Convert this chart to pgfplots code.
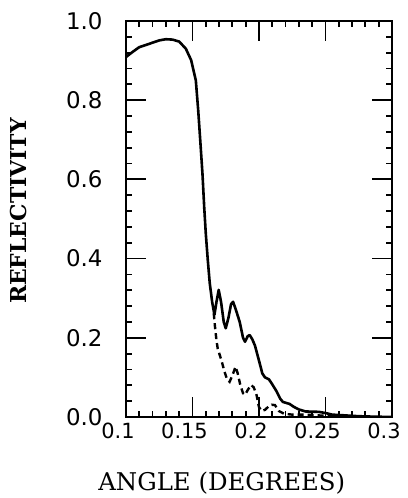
\documentclass[border=0pt]{standalone}
\usepackage{fontspec}
\usepackage{pgfplots}
\pgfplotsset{compat=1.18}
\newfontfamily\ticksf{DejaVu Sans}
\newfontfamily\labelserif{DejaVu Serif}

\pgfplotstableread{
x y
0.100 0.909
0.105 0.922
0.110 0.934
0.118 0.943
0.125 0.951
0.130 0.954
0.135 0.953
0.140 0.948
0.145 0.930
0.149 0.901
0.1525 0.850
0.1543 0.774
0.1560 0.690
0.1575 0.614
0.1588 0.530
0.1600 0.463
0.1615 0.396
0.1630 0.337
0.1648 0.290
0.1665 0.258
0.1680 0.290
0.1697 0.321
0.1715 0.290
0.1735 0.240
0.1750 0.224
0.1770 0.250
0.1790 0.285
0.1805 0.291
0.1825 0.272
0.1855 0.240
0.1880 0.200
0.1895 0.190
0.1915 0.204
0.1930 0.207
0.1950 0.196
0.1970 0.180
0.2005 0.136
0.2025 0.110
0.2045 0.100
0.2075 0.095
0.2095 0.085
0.2130 0.066
0.2160 0.046
0.2180 0.038
0.2210 0.035
0.2230 0.033
0.2260 0.026
0.2300 0.019
0.2350 0.014
0.2450 0.013
0.2500 0.010
0.2550 0.006
0.2650 0.004
0.2750 0.002
0.2850 0.001
0.3000 0.000
}\solid

\pgfplotstableread{
x y
0.1660 0.262
0.1667 0.235
0.1680 0.194
0.1690 0.172
0.1717 0.144
0.1740 0.115
0.1760 0.095
0.1779 0.089
0.1800 0.105
0.1824 0.127
0.1840 0.110
0.1860 0.080
0.1880 0.060
0.1895 0.056
0.1915 0.068
0.1940 0.081
0.1960 0.075
0.1980 0.058
0.2000 0.025
0.2020 0.015
0.2045 0.018
0.2070 0.026
0.2095 0.031
0.2120 0.030
0.2150 0.015
0.2190 0.008
0.2250 0.006
0.2350 0.006
0.2450 0.004
0.2600 0.002
0.2750 0.000
}\dashed

\begin{document}
\begin{tikzpicture}
\useasboundingbox (-126bp,-81bp) rectangle (282bp,417bp);
\begin{axis}[
    scale only axis,
    width=266bp, height=396bp,
    xmin=0.1, xmax=0.3,
    ymin=0, ymax=1,
    xtick={0.1,0.15,0.2,0.25,0.3},
    xticklabels={0.1,0.15,0.2,0.25,0.3},
    ytick={0,0.2,0.4,0.6,0.8,1},
    yticklabels={0.0,0.2,0.4,0.6,0.8,1.0},
    minor x tick num=4,
    minor y tick num=4,
    tick align=inside,
    major tick length=20bp,
    minor tick length=6bp,
    axis line style={line width=2.4bp},
    every tick/.style={black, line width=1.8bp},
    xticklabel style={font=\ticksf\fontsize{21}{24}\selectfont, xshift=-8bp, yshift=-2bp},
    yticklabel style={font=\ticksf\fontsize{23}{26}\selectfont, xshift=-20bp},
    xlabel={ANGLE (DEGREES)},
    xlabel style={font=\labelserif\fontsize{24.5}{28}\selectfont,
        at={(axis description cs:0.36,-0.1667)}, anchor=center},
    ylabel={REFLECTIVITY},
    ylabel style={font=\labelserif\bfseries\fontsize{22}{25}\selectfont,
        at={(axis description cs:-0.4045,0.52)}, anchor=center, rotate=0},
]
\addplot[black, line width=2.6bp, line join=round] table {\solid};
\addplot[black, line width=2.4bp, dash pattern=on 6bp off 4bp] table {\dashed};
\end{axis}
\end{tikzpicture}
\end{document}
